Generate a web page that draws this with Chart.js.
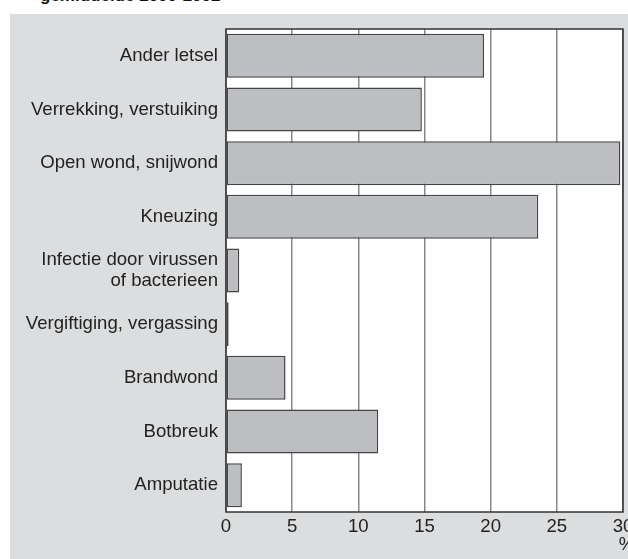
<!DOCTYPE html>
<html>
<head>
<meta charset="utf-8">
<script src="https://cdn.jsdelivr.net/npm/chart.js@4"></script>
<style>
  html, body { margin: 0; padding: 0; background: #fff; overflow: hidden; width: 628px; height: 559px; }
  #title { position: absolute; left: 40px; top: -13px; font: bold 17px "Liberation Sans", Arial, sans-serif; color: #111; line-height: 17px; white-space: nowrap; }
  #panel { position: absolute; left: 10px; top: 14px; width: 640px; height: 545px; background: #dcdddf; }
  #wrap { position: absolute; left: 10px; top: 14px; width: 630px; height: 545px; }
</style>
</head>
<body>
<div id="title">gemiddelde 2000-2002</div>
<div id="panel"></div>
<div id="wrap"><canvas id="chart"></canvas></div>
<script>
// categorieën en waarden (%)
const categories = [
    'Ander letsel',
    'Verrekking, verstuiking',
    'Open wond, snijwond',
    'Kneuzing',
    ['Infectie door virussen', 'of bacterieen'],
    'Vergiftiging, vergassing',
    'Brandwond',
    'Botbreuk',
    'Amputatie'
];
const percentages = [19.5, 14.8, 29.8, 23.6, 1.0, 0.2, 4.5, 11.5, 1.2];
const xTicks = [0, 5, 10, 15, 20, 25, 30];

const font = { family: '"Liberation Sans", Arial, sans-serif', size: 18.6, lineHeight: 1.1 };

// witte achtergrond + rand van plotgebied, en "%" onder de as
const plotArea = {
    id: 'plotArea',
    beforeDraw(chart) {
        const { ctx, chartArea: a } = chart;
        ctx.save();
        ctx.fillStyle = '#ffffff';
        ctx.fillRect(a.left, a.top, a.right - a.left, a.bottom - a.top);
        ctx.restore();
    },
    afterDatasetsDraw(chart) {
        const { ctx, chartArea: a } = chart;
        ctx.save();
        ctx.strokeStyle = '#333';
        ctx.lineWidth = 1.5;
        ctx.strokeRect(a.left, a.top, a.right - a.left, a.bottom - a.top);
        ctx.fillStyle = '#222';
        ctx.font = '18.6px ' + font.family;
        ctx.textAlign = 'center';
        ctx.textBaseline = 'middle';
        ctx.fillText('%', chart.scales.x.getPixelForValue(30) + 4, 531);
        ctx.restore();
    }
};

new Chart(document.getElementById('chart'), {
    type: 'bar',
    data: {
        labels: categories,
        datasets: [{
            data: percentages,
            backgroundColor: '#bdbec1',
            borderColor: '#444',
            borderWidth: 1.5,
            borderSkipped: false,
            barPercentage: 0.82,
            categoryPercentage: 1
        }]
    },
    options: {
        indexAxis: 'y',
        responsive: true,
        maintainAspectRatio: false,
        animation: false,
        layout: { padding: { top: 15, right: 17, bottom: 0, left: 0 } },
        plugins: { legend: { display: false }, tooltip: { enabled: false } },
        scales: {
            x: {
                min: 0,
                max: 30,
                afterBuildTicks(scale) { scale.ticks = xTicks.map(v => ({ value: v })); },
                afterFit(scale) { scale.height = 47; scale.paddingLeft = 0; scale.paddingRight = 0; },
                grid: { color: '#888', lineWidth: 1.5, drawTicks: false },
                border: { display: false },
                ticks: { color: '#222', font: font, padding: 5, maxRotation: 0 }
            },
            y: {
                afterFit(scale) { scale.width = 216; scale.paddingTop = 0; scale.paddingBottom = 0; },
                grid: { display: false, drawTicks: false },
                border: { display: false },
                ticks: { color: '#222', font: font, padding: 8 }
            }
        }
    },
    plugins: [plotArea]
});
</script>
</body>
</html>
